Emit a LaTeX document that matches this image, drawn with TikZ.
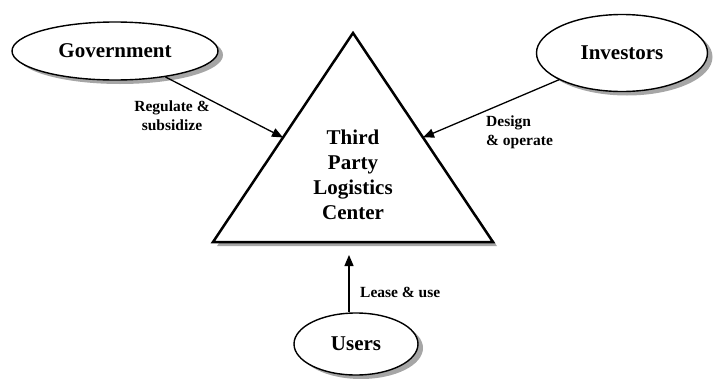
\documentclass[tikz,border=0pt]{standalone}
\usepackage{fontspec}
\setmainfont{Liberation Serif}
\usetikzlibrary{shapes.geometric,shadows,arrows.meta,calc}
\tikzset{
  party/.style={ellipse,draw,line width=1.4pt,fill=white,inner sep=0pt,
    font=\fontsize{21}{25}\selectfont\bfseries,
    drop shadow={shadow xshift=5pt,shadow yshift=-4pt,fill=gray!70,opacity=1}},
  flow/.style={-{Triangle[length=11pt,width=9pt]},line width=1.3pt},
  lbl/.style={font=\fontsize{15.5}{19}\selectfont\bfseries,inner sep=0pt}
}
\begin{document}
\begin{tikzpicture}[x=1pt,y=-1pt]
\useasboundingbox (0,0) rectangle (713,378);
% the three parties
\node[party,minimum width=206pt,minimum height=58pt] (gov) at (115,51) {Government};
\node[party,minimum width=171pt,minimum height=77pt] (inv) at (622,53) {Investors};
\node[party,minimum width=124pt,minimum height=62pt] (usr) at (356,344) {Users};
% the centre triangle
\coordinate (top) at (353,33);
\coordinate (bl) at (213,242);
\coordinate (br) at (493,242);
\fill[gray!70] ($(top)+(4,4)$) -- ($(br)+(4,4)$) -- ($(bl)+(4,4)$) -- cycle;
\draw[line width=2.5pt,fill=white] (top) -- (br) -- (bl) -- cycle;
\node[font=\fontsize{21}{25}\selectfont\bfseries,align=center] (tplc) at (353,175)
  {Third\\Party\\Logistics\\Center};
% arrow ends
\coordinate (lin) at ($(top)!0.5!(bl)$);
\coordinate (rin) at ($(top)!0.5!(br)$);
\coordinate (bin) at (349,255);
\draw[flow] (gov) -- (lin);
\draw[flow] (inv) -- (rin);
\draw[flow] (bin |- usr.north) -- (bin);
% labels
\node[lbl,align=center] (reg) at (172,116) {Regulate \&\\subsidize};
\node[lbl,align=left,anchor=west] (des) at (486,132) {Design\\\& operate};
\node[lbl,anchor=west] (lea) at (360,292) {Lease \& use};
\end{tikzpicture}
\end{document}
